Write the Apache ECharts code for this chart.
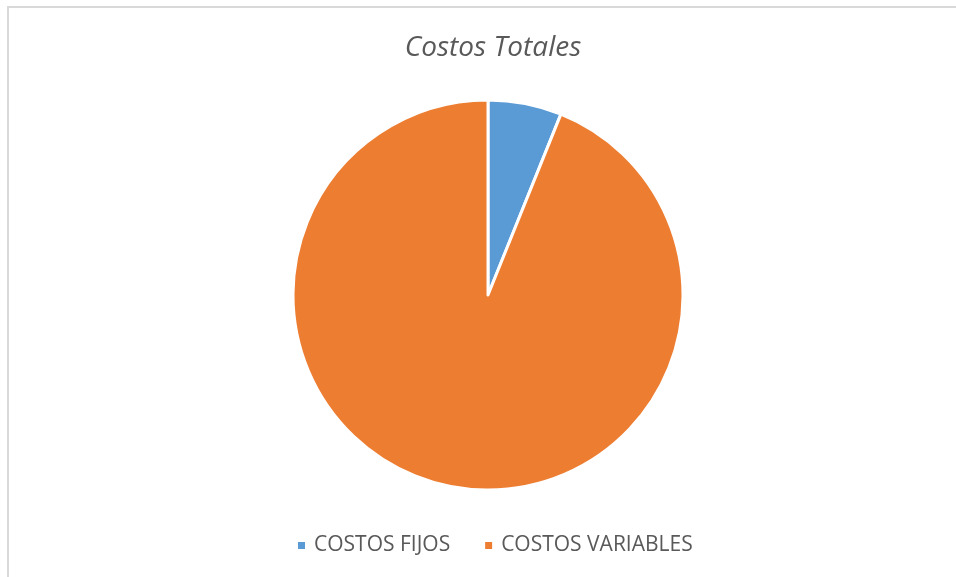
<!DOCTYPE html>
<html>
<head>
<meta charset="utf-8">
<script src="https://cdn.jsdelivr.net/npm/echarts@6/dist/echarts.min.js"></script>
<style>
  html, body { margin: 0; padding: 0; background: #fff; overflow: hidden; }
  #frame { position: absolute; left: 7px; top: 6px; width: 2000px; height: 2000px;
           border-left: 2px solid #d9d9d9; border-top: 2px solid #d9d9d9; box-sizing: border-box; }
  #chart { position: absolute; left: 0; top: 0; width: 956px; height: 577px; }
</style>
</head>
<body>
<div id="frame"></div>
<div id="chart"></div>
<script>
  const categories = ["COSTOS FIJOS", "COSTOS VARIABLES"];
  const values = [6.1, 93.9];
  const colors = ["#5b9bd5", "#ed7d31"];

  const myChart = echarts.init(document.getElementById("chart"));
  const option = {
    title: {
      text: "Costos Totales",
      left: 488,
      textAlign: "center",
      top: 29,
      textStyle: {
        fontFamily: "Open Sans",
        fontStyle: "italic",
        fontWeight: "normal",
        fontSize: 28,
        color: "#595959"
      }
    },
    legend: {
      bottom: 16,
      left: 291,
      icon: "rect",
      itemWidth: 9,
      itemHeight: 9,
      itemGap: 33,
      textStyle: { fontFamily: "Open Sans", fontSize: 21, color: "#595959", padding: [0, 0, 0, 3] },
      data: categories
    },
    series: [
      {
        type: "pie",
        center: [488, 295],
        radius: 195,
        startAngle: 90,
        clockwise: true,
        label: { show: false },
        labelLine: { show: false },
        silent: true,
        itemStyle: { borderColor: "#fff", borderWidth: 3 },
        data: categories.map((c, i) => ({
          name: c,
          value: values[i],
          itemStyle: { color: colors[i] }
        }))
      }
    ]
  };
  myChart.setOption(option);
</script>
</body>
</html>
